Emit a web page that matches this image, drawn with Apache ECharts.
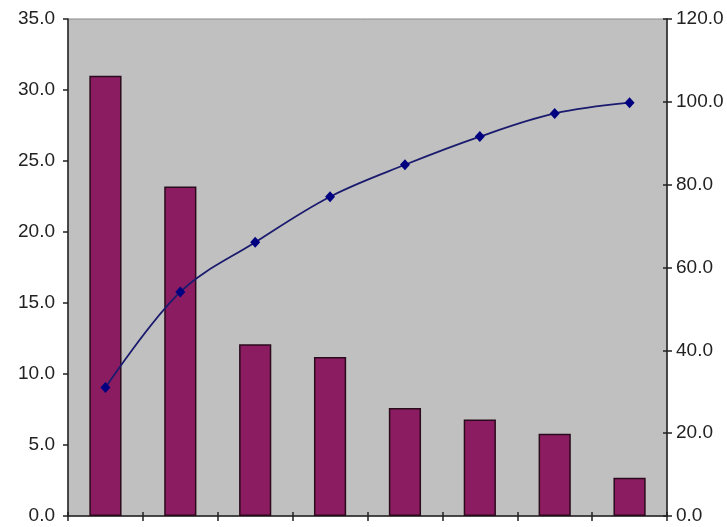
<!DOCTYPE html>
<html>
<head>
<meta charset="utf-8">
<script src="https://cdn.jsdelivr.net/npm/echarts@6/dist/echarts.min.js"></script>
<style>
  html, body { margin: 0; padding: 0; background: #ffffff; }
  #chart { width: 727px; height: 527px; }
</style>
</head>
<body>
<div id="chart"></div>
<script>
// Pareto chart: individual counts as bars, cumulative percentage as a line
const categories = ['1', '2', '3', '4', '5', '6', '7', '8'];
const barValues = [31.0, 23.2, 12.1, 11.2, 7.6, 6.8, 5.8, 2.7];
const cumulativePct = [31.0, 54.1, 66.1, 77.1, 84.8, 91.6, 97.2, 99.8];

const leftTicks = { min: 0, max: 35, interval: 5 };
const rightTicks = { min: 0, max: 120, interval: 20 };

const font = 'Liberation Sans, Arial, sans-serif';
const labelStyle = {
  color: '#222',
  fontFamily: font,
  fontSize: 19,
  formatter: v => v.toFixed(1)
};

const chart = echarts.init(document.getElementById('chart'), null, { renderer: 'canvas' });

chart.setOption({
  animation: false,
  backgroundColor: '#ffffff',
  grid: {
    left: 68, right: 60, top: 19, bottom: 11,
    show: true,
    backgroundColor: '#c0c0c0',
    borderColor: '#8a8a8a',
    borderWidth: 1
  },
  xAxis: [
    {
      type: 'category',
      data: categories,
      position: 'bottom',
      axisLine: { show: true, lineStyle: { color: '#222', width: 1.5 } },
      axisTick: { show: true, length: 5, lineStyle: { color: '#222', width: 1.5 } },
      axisLabel: { show: false },
      splitLine: { show: false }
    },
    {
      // inner half of the crossing ticks on the category axis
      type: 'category',
      data: categories,
      position: 'bottom',
      axisLine: { show: false },
      axisTick: { show: true, inside: true, length: 4, lineStyle: { color: '#222', width: 1.5 } },
      axisLabel: { show: false },
      splitLine: { show: false }
    }
  ],
  yAxis: [
    {
      type: 'value',
      position: 'left',
      min: leftTicks.min, max: leftTicks.max, interval: leftTicks.interval,
      axisLine: { show: true, lineStyle: { color: '#222', width: 1.5 } },
      axisTick: { show: true, length: 5, lineStyle: { color: '#222', width: 1.5 } },
      axisLabel: Object.assign({ margin: 13 }, labelStyle),
      splitLine: { show: false }
    },
    {
      type: 'value',
      position: 'right',
      min: rightTicks.min, max: rightTicks.max, interval: rightTicks.interval,
      axisLine: { show: true, lineStyle: { color: '#222', width: 1.5 } },
      axisTick: { show: true, length: 5, lineStyle: { color: '#222', width: 1.5 } },
      axisLabel: Object.assign({ margin: 9 }, labelStyle),
      splitLine: { show: false }
    },
    {
      // inner half of the crossing ticks on the percentage axis
      type: 'value',
      position: 'right',
      min: rightTicks.min, max: rightTicks.max, interval: rightTicks.interval,
      axisLine: { show: false },
      axisTick: { show: true, inside: true, length: 4, lineStyle: { color: '#222', width: 1.5 } },
      axisLabel: { show: false },
      splitLine: { show: false }
    }
  ],
  series: [
    {
      type: 'bar',
      xAxisIndex: 0,
      yAxisIndex: 0,
      data: barValues,
      barWidth: '43%',
      itemStyle: {
        color: '#8c1c62',
        borderColor: '#2b0a1c',
        borderWidth: 1.5
      },
      z: 2
    },
    {
      type: 'line',
      xAxisIndex: 0,
      yAxisIndex: 1,
      data: cumulativePct,
      smooth: 0.35,
      symbol: 'diamond',
      symbolSize: [10, 11],
      lineStyle: { color: '#1a1a6e', width: 1.8 },
      itemStyle: { color: '#000080' },
      z: 5
    }
  ]
});
</script>
</body>
</html>
